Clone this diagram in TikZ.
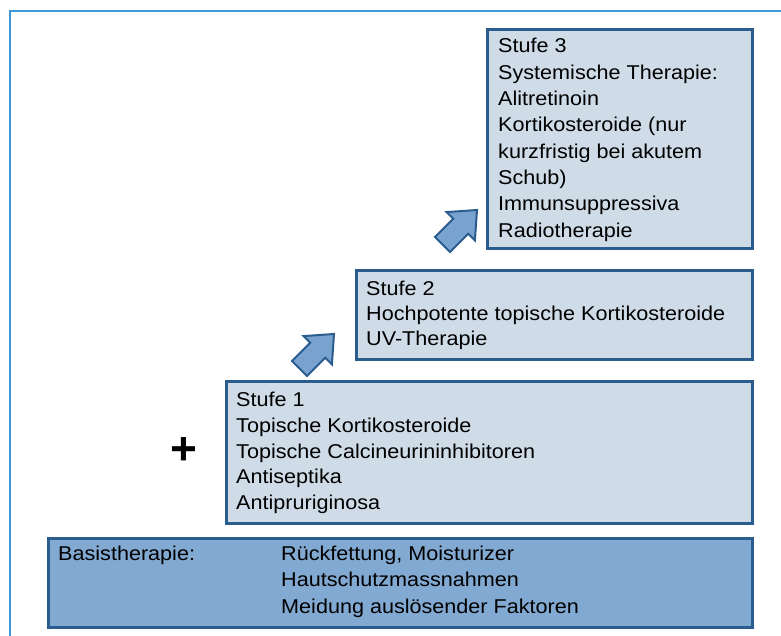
\documentclass[tikz,border=0pt]{standalone}
\usepackage{fontspec}
\newfontfamily\mf[FakeStretch=1.08]{Liberation Sans}
\newfontfamily\mfb{Liberation Sans}
\definecolor{framec}{HTML}{3D9AD6}
\definecolor{borderc}{HTML}{2B5C8E}
\definecolor{lightc}{HTML}{CFDCE8}
\definecolor{basisc}{HTML}{82A9D1}
\definecolor{arrowc}{HTML}{78A3CF}
\begin{document}
\begin{tikzpicture}[x=1pt,y=-1pt,
  framestyle/.style={draw=framec,line width=2pt},
  stufebox/.style={draw=borderc,line width=3pt,fill=lightc,rectangle,inner sep=0pt,anchor=north west},
  basisbox/.style={stufebox,fill=basisc},
  txt/.style={anchor=base west,inner sep=0pt,font=\mf\fontsize{20}{26}\selectfont,text=black},
  blockarrow/.style={draw=borderc,line width=2pt,fill=arrowc,line join=miter}]
\useasboundingbox (0,0) rectangle (781,636);
\draw[framestyle] (9.5,637) -- (9.5,11) -- (782,11);
% boxes
\node[stufebox,minimum width=265pt,minimum height=219pt] (s3) at (485.5,28.5) {};
\node[stufebox,minimum width=396pt,minimum height=89pt] (s2) at (354.5,268.5) {};
\node[stufebox,minimum width=526pt,minimum height=142pt] (s1) at (224.5,379.5) {};
\node[basisbox,minimum width=704pt,minimum height=89pt] (ba) at (46.5,536.5) {};
% Stufe 3 text
\node[txt] (t3a) at (498,53) {Stufe 3};
\node[txt] (t3b) at (498,79.3) {Systemische Therapie:};
\node[txt] (t3c) at (498,105.6) {Alitretinoin};
\node[txt] (t3d) at (498,131.9) {Kortikosteroide (nur};
\node[txt] (t3e) at (498,158.2) {kurzfristig bei akutem};
\node[txt] (t3f) at (498,184.5) {Schub)};
\node[txt] (t3g) at (498,210.8) {Immunsuppressiva};
\node[txt] (t3h) at (498,237.1) {Radiotherapie};
% Stufe 2 text
\node[txt] (t2a) at (366,295) {Stufe 2};
\node[txt] (t2b) at (366,320) {Hochpotente topische Kortikosteroide};
\node[txt] (t2c) at (366,345) {UV-Therapie};
% Stufe 1 text
\node[txt] (t1a) at (236,406) {Stufe 1};
\node[txt] (t1b) at (236,432) {Topische Kortikosteroide};
\node[txt] (t1c) at (236,458) {Topische Calcineurininhibitoren};
\node[txt] (t1d) at (236,483.5) {Antiseptika};
\node[txt] (t1e) at (236,509) {Antipruriginosa};
% Basis text
\node[txt] (tba) at (58,560) {Basistherapie:};
\node[txt] (tbb) at (281,560) {Rückfettung, Moisturizer};
\node[txt] (tbc) at (281,586.5) {Hautschutzmassnahmen};
\node[txt] (tbd) at (281,613) {Meidung auslösender Faktoren};
% plus
\node[inner sep=0pt,font=\mfb\bfseries\fontsize{46}{46}\selectfont] (plus) at (183.5,451.5) {+};
% arrows (tip at named coordinate, pointing up-right)
\coordinate (a1) at (334,334);
\coordinate (a2) at (477,210);
\foreach \c in {a1,a2}{
  \draw[blockarrow,shift={(\c)}] (0,0) -- (-2.1,30.4) -- (-8.8,23.8) -- (-27.0,42.0) -- (-42.0,27.0) -- (-23.8,8.8) -- (-30.4,2.1) -- cycle;
}
\end{tikzpicture}
\end{document}
